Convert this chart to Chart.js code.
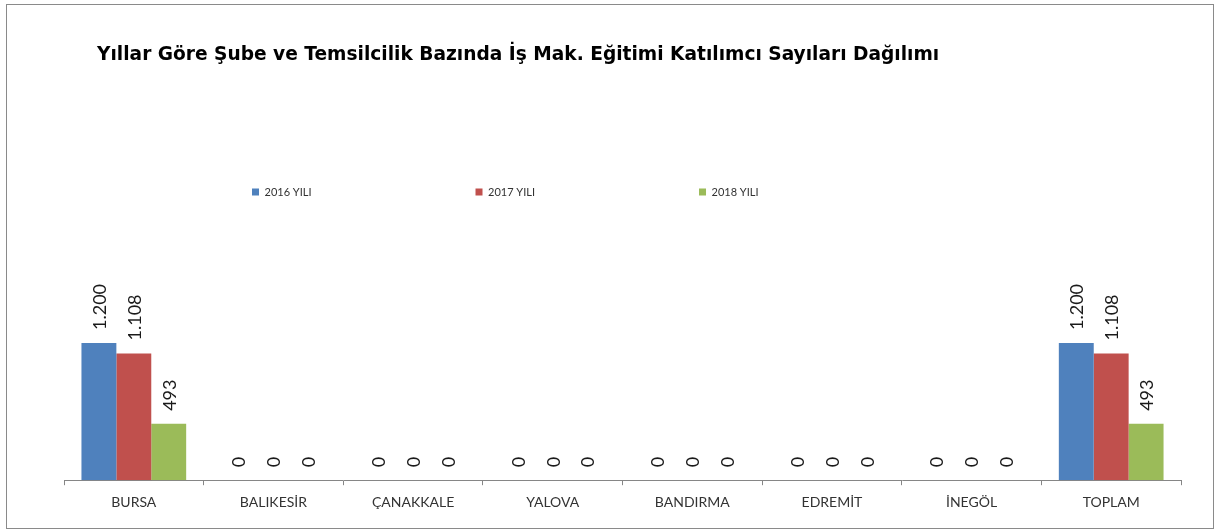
<!DOCTYPE html>
<html>
<head>
<meta charset="utf-8">
<script src="https://cdn.jsdelivr.net/npm/chart.js@4.4.1/dist/chart.umd.min.js"></script>
<style>
  html, body { margin: 0; padding: 0; background: #ffffff; }
  #wrap { position: relative; width: 1217px; height: 531px; }
</style>
</head>
<body>
<div id="wrap"><canvas id="c"></canvas></div>
<script>
const categories = ["BURSA", "BALIKESİR", "ÇANAKKALE", "YALOVA", "BANDIRMA", "EDREMİT", "İNEGÖL", "TOPLAM"];
const seriesNames = ["2016 YILI", "2017 YILI", "2018 YILI"];
const values2016 = [1200, 0, 0, 0, 0, 0, 0, 1200];
const values2017 = [1108, 0, 0, 0, 0, 0, 0, 1108];
const values2018 = [493, 0, 0, 0, 0, 0, 0, 493];
const chartTitle = "Yıllar Göre Şube ve Temsilcilik Bazında İş Mak. Eğitimi Katılımcı Sayıları Dağılımı";

const colors = ["#4F81BD", "#C0504D", "#9BBB59"];
const LEGEND_PAD = 164;

function fmt(v) {
  return String(v).replace(/\B(?=(\d{3})+(?!\d))/g, ".");
}

const framePlugin = {
  id: "frame",
  beforeDraw(chart) {
    const ctx = chart.ctx;
    ctx.save();
    ctx.fillStyle = "#ffffff";
    ctx.fillRect(0, 0, chart.width, chart.height);
    ctx.strokeStyle = "#8a8a8a";
    ctx.lineWidth = 1;
    ctx.strokeRect(6.5, 4.5, 1207, 524);
    ctx.restore();
  }
};

const placePlugin = {
  id: "place",
  afterLayout(chart) {
    if (chart.titleBlock) chart.titleBlock.left = 97;
    if (chart.legend) {
      chart.legend.left = 252 - LEGEND_PAD;
      chart.legend.top = 192 - 5.5 - LEGEND_PAD;
    }
  }
};

const valueLabels = {
  id: "valueLabels",
  afterDatasetsDraw(chart) {
    const ctx = chart.ctx;
    ctx.save();
    ctx.font = "18px Lato";
    ctx.fillStyle = "#1a1a1a";
    ctx.textAlign = "left";
    ctx.textBaseline = "middle";
    chart.data.datasets.forEach((ds, i) => {
      const meta = chart.getDatasetMeta(i);
      meta.data.forEach((bar, j) => {
        ctx.save();
        ctx.translate(bar.x + 1, bar.y - 13);
        ctx.rotate(-Math.PI / 2);
        ctx.fillText(fmt(ds.data[j]), 0, 0);
        ctx.restore();
      });
    });
    ctx.restore();
  }
};

new Chart(document.getElementById("c"), {
  type: "bar",
  data: {
    labels: categories,
    datasets: [
      { label: seriesNames[0], data: values2016, backgroundColor: colors[0] },
      { label: seriesNames[1], data: values2017, backgroundColor: colors[1] },
      { label: seriesNames[2], data: values2018, backgroundColor: colors[2] }
    ]
  },
  options: {
    responsive: true,
    maintainAspectRatio: false,
    animation: false,
    devicePixelRatio: 1,
    layout: { padding: { left: 64, right: 36, top: 0, bottom: 11 } },
    datasets: { bar: { barPercentage: 1, categoryPercentage: 0.75 } },
    plugins: {
      title: {
        display: true,
        text: chartTitle,
        align: "start",
        color: "#000000",
        font: { family: "DejaVu Sans", size: 18.6, weight: "bold" },
        padding: { top: 44, bottom: 0 }
      },
      legend: {
        display: true,
        position: "top",
        align: "start",
        maxHeight: 139.4,
        labels: {
          boxWidth: 7,
          boxHeight: 7,
          padding: LEGEND_PAD,
          color: "#333333",
          font: { family: "Lato", size: 11 }
        }
      },
      tooltip: { enabled: false }
    },
    scales: {
      x: {
        grid: {
          display: true,
          drawOnChartArea: false,
          drawTicks: true,
          tickLength: 5,
          color: "#868686",
          offset: true
        },
        border: { display: true, color: "#868686" },
        ticks: {
          color: "#333333",
          font: { family: "Lato", size: 14 },
          padding: 9,
          maxRotation: 0,
          autoSkip: false
        }
      },
      y: {
        display: false,
        min: 0,
        max: 2400
      }
    }
  },
  plugins: [framePlugin, placePlugin, valueLabels]
});
</script>
</body>
</html>
